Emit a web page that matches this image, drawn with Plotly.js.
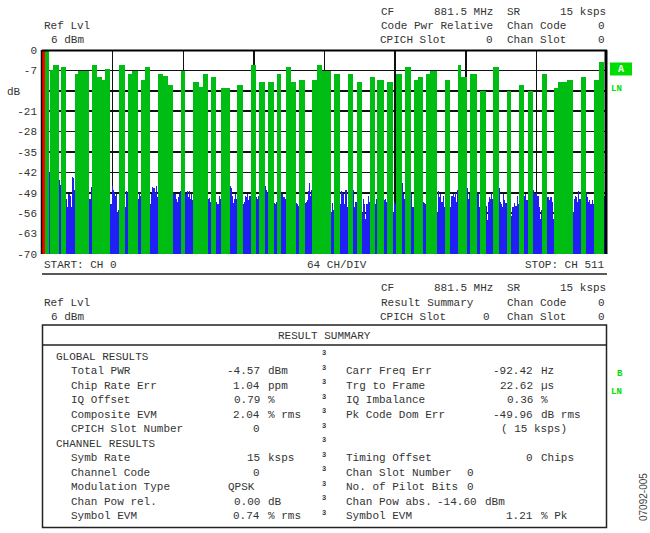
<!DOCTYPE html>
<html><head><meta charset="utf-8">
<script src="https://cdn.plot.ly/plotly-3.0.1.min.js"></script>
<style>html,body{margin:0;padding:0;background:#fff}#chart{width:650px;height:533px}</style>
</head><body><div id="chart"></div>
<script>
// ---- Code domain power data (channel = code number, level in dB relative) ----
const selStart = [0], selEnd = [3], selLevel = [0];
const greenStart = [3,7,10,17,30,33,37,45,50,54,57,70,78,82,90,93,105,110,114,126,137,142,146,153,162,177,189,197,205,213,221,226,233,245,249,254,265,277,285,297,304,313,321,329,337,341,348,352,365,377,380,388,397,409,421,432,440,453,464,468,476,488,500,505];
const greenEnd   = [6,10,15,22,33,37,43,50,54,57,62,75,82,87,93,98,110,114,119,130,142,146,150,158,170,182,194,202,210,217,226,230,238,249,254,262,270,282,290,302,310,318,326,334,341,345,352,358,370,380,385,394,402,414,425,437,445,458,468,476,481,493,505,509];
const greenLevel = [0,-7,-5.2,-5.9,-8.1,-7.1,-7.1,-5.2,-9.2,-10.2,-6.4,-5.2,-8.1,-7.1,-10.2,-5.9,-8.1,-9.0,-12.1,-7.1,-11,-12.8,-8.1,-9.2,-13,-12.1,-5.2,-11,-11,-8.1,-5.9,-11,-10.2,-10.2,-5.2,-7.1,-8.1,-8.1,-11,-9.2,-10.2,-11,-8.1,-5.9,-10.2,-9.2,-8.1,-7.1,-10.2,-5.2,-9.2,-8.1,-14.2,-5.9,-14.2,-12.1,-14.2,-8.1,-13,-11,-10.2,-9.2,-10.2,-4.1];
const blueStart = [6,15,22,43,62,75,87,98,119,130,150,158,170,182,194,202,210,217,230,238,262,270,282,290,302,310,318,326,334,345,358,370,385,394,402,414,425,437,445,458,481,493,509];
const blueLevels = [
 [-42],
 [-44.7,-46.4],
 [-51,-54,-49.5,-50,-54,-43.5,-44,-48],
 [-51,-47],
 [-53,-46.6,-48,-49,-50,-49.5,-55.6,-55],
 [-54,-48.3,-49],
 [-51,-49,-50],
 [-53,-49.5,-47,-47.5,-49,-46.5,-50.5],
 [-49,-49.5,-51,-52,-50.5,-49.5,-48.5],
 [-49.5,-48.5,-50.5,-48.5,-51,-49.5,-51.5],
 [-51,-50.8,-52],
 [-52,-53,-50,-51],
 [-46.5,-47.5,-50,-52.5,-51,-49.5,-51],
 [-53,-52,-50,-50.5,-49.5,-51.5,-50],
 [-50.5,-51,-50],
 [-46.5,-48,-49],
 [-52.5,-53,-52],
 [-49.5,-50.5,-50.5,-51],
 [-52.5,-53,-53.5],
 [-52.5,-52,-51.5,-48.5,-45.5,-50,-48],
 [-55.5,-52.5,-55],
 [-53,-48.5,-49,-49.5,-53,-48,-54],
 [-48,-54,-52],
 [-56,-51,-53,-58,-53,-50,-52],
 [-52.7,-51],
 [-51.5,-51,-52],
 [-55.6,-52,-53],
 [-45.5,-49.5,-51],
 [-49.5,-54,-54],
 [-52,-52.5,-53],
 [-55.6,-48.5,-50.5,-49.5,-52,-50,-54],
 [-54,-50,-49.5,-50.5,-49,-52,-48],
 [-47.5,-51,-49.5],
 [-49.5,-49,-54],
 [-53.5,-58.5,-52,-50.5,-51,-49,-51],
 [-47.5,-52,-53,-54,-49.5,-51.5,-52.5],
 [-57,-54,-54,-52.5,-53.5,-50,-53],
 [-50,-49.5,-51.5],
 [-48,-49,-49.5,-49,-50,-54,-58,-55],
 [-50.5,-51.5,-50.5,-50.5,-52,-58],
 [-55.6,-51,-50,-50.5,-52,-48.5,-51],
 [-49,-50.5,-52,-51.5,-53,-51.5,-53],
 [-50,-50.5,-51]
];
const yTickVals = [0,-7,-14,-21,-28,-35,-42,-49,-56,-63,-70];
const yTickText = ['0','-7','','-21','-28','-35','-42','-49','-56','-63','-70'];

// ---- Result summary table ----
const leftLabels  = ["GLOBAL RESULTS","Total PWR","Chip Rate Err","IQ Offset","Composite EVM","CPICH Slot Number","CHANNEL RESULTS","Symb Rate","Channel Code","Modulation Type","Chan Pow rel.","Symbol EVM"];
const leftValues  = ["","-4.57","1.04","0.79","2.04","0","","15","0","QPSK","0.00","0.74"];
const leftUnits   = ["","dBm","ppm","%","% rms","","","ksps","","","dB","% rms"];
const rightLabels = ["","Carr Freq Err","Trg to Frame","IQ Imbalance","Pk Code Dom Err","","","Timing Offset","Chan Slot Number","No. of Pilot Bits","Chan Pow abs.","Symbol EVM"];
const rightValues = ["","-92.42","22.62","0.36","-49.96","( 15 ksps)","","0","0","0","-14.60","1.21"];
const rightUnits  = ["","Hz","\u00b5s","%","dB rms","","","Chips","","","dBm","% Pk"];

// ---- build traces ----
const LO = -70;
function barTrace(xs, ws, lv, color){
  return {type:'bar', x:xs, width:ws, y:lv.map(v=>v-LO), base:lv.map(()=>LO),
    marker:{color:color, line:{width:0}}, hoverinfo:'skip', showlegend:false};
}
const gx=[],gw=[];
greenStart.forEach((s,i)=>{gx.push((s+greenEnd[i])/2); gw.push(greenEnd[i]-s);});
const bx=[],bw=[],bl=[];
blueStart.forEach((s,i)=>{blueLevels[i].forEach((v,j)=>{bx.push(s+j+0.5); bw.push(1); bl.push(v);});});
const rx=[],rw=[];
selStart.forEach((s,i)=>{rx.push((s+selEnd[i])/2); rw.push(selEnd[i]-s);});
const traces = [
  barTrace(bx,bw,bl,'#2020f6'),
  barTrace(gx,gw,greenLevel,'#00bd14'),
  barTrace(rx,rw,selLevel,'#ff0000')
];

// ---- pixel helpers ----
const PL=42, PR=607, PT=50, PB=254;
const X = px => (px-PL)/(PR-PL);
const Y = py => (PB-py)/(PB-PT);
const MONO = 'Liberation Mono, Courier New, monospace';
function ann(text, px, py, anchor, size, color, extra){
  return Object.assign({xref:'paper', yref:'paper', x:X(px), y:Y(py), xanchor:anchor, yanchor:'middle',
    text:text, showarrow:false, borderpad:0,
    font:{family:MONO, size:size||11, color:color||'#333'}}, extra||{});
}
const A = [];
function header(y0, line2left, cpichX){
  A.push(ann('CF', 380, y0, 'left'));
  A.push(ann('881.5 MHz', 494, y0, 'right'));
  A.push(ann('SR', 506, y0, 'left'));
  A.push(ann('15 ksps', 607, y0, 'right'));
  A.push(ann('Ref Lvl', 43, y0+14.5, 'left'));
  A.push(ann(line2left, 380, y0+14.5, 'left'));
  A.push(ann('Chan Code', 506, y0+14.5, 'left'));
  A.push(ann('0', 606, y0+14.5, 'right'));
  A.push(ann('6 dBm', 50, y0+29, 'left'));
  A.push(ann('CPICH Slot', 379, y0+29, 'left'));
  A.push(ann('0', cpichX, y0+29, 'right'));
  A.push(ann('Chan Slot', 506, y0+29, 'left'));
  A.push(ann('0', 606, y0+29, 'right'));
}
header(11.5, 'Code Pwr Relative', 494);
header(288, 'Result Summary', 491);
A.push(ann('dB', 6, 91.5, 'left'));
A.push(ann('START: CH 0', 43, 265, 'left'));
A.push(ann('64 CH/DIV', 306, 265, 'left'));
A.push(ann('STOP: CH 511', 606, 265, 'right'));
A.push(ann('RESULT SUMMARY', 324, 335.5, 'center'));
A.push(ann('<b>A</b>', 621, 69, 'center', 10, '#ffffff'));
A.push(ann('<b>LN</b>', 610, 88.5, 'left', 9, '#00e000'));
A.push(ann('<b>B</b>', 620, 374, 'center', 9, '#00e000'));
A.push(ann('<b>LN</b>', 610, 391.5, 'left', 9, '#00e000'));
A.push(ann('07092-005', 643, 497, 'center', 10, '#444', {textangle:-90, font:{family:'Liberation Sans, Arial', size:10, color:'#444'}}));
const rightValAnchor = [534,534,534,534,534,null,534,534,475,475,478,534];
leftLabels.forEach((lab,i)=>{
  const y = 356.7 + 14.5*i;
  const isHead = (i===0 || i===6);
  if(lab) A.push(ann(lab, isHead?55:70, y, 'left'));
  if(leftValues[i]){
    if(leftValues[i]==='QPSK') A.push(ann('QPSK', 227, y, 'left'));
    else A.push(ann(leftValues[i], 261, y, 'right'));
  }
  if(leftUnits[i]) A.push(ann(leftUnits[i], 267, y, 'left'));
  A.push(ann('<b>3</b>', 321, y-3.5, 'left', 7, '#333'));
  if(rightLabels[i]) A.push(ann(rightLabels[i], 345, y, 'left'));
  if(rightValues[i]){
    if(rightValues[i].startsWith('(')) A.push(ann(rightValues[i], 500, y, 'left'));
    else A.push(ann(rightValues[i], rightValAnchor[i], y, 'right'));
  }
  if(rightUnits[i]) A.push(ann(rightUnits[i], rightValAnchor[i]+6, y, 'left'));
});

const S = [];
function line(x0,y0,x1,y1,w,c){S.push({type:'line',xref:'paper',yref:'paper',x0:X(x0),y0:Y(y0),x1:X(x1),y1:Y(y1),line:{width:w,color:c||'#000'}});}
line(42,50.5,607,50.5,2);
line(41.5,50,41.5,254,1.5);
line(606,50,606,254,3);
line(42,274,607,274,1.5,'#222');
S.push({type:'rect',xref:'paper',yref:'paper',x0:X(42.5),x1:X(606.5),y0:Y(325),y1:Y(527.5),line:{width:1.5,color:'#222'}});
line(42.5,345,606.5,345,1.5,'#222');
S.push({type:'rect',xref:'paper',yref:'paper',x0:X(610),x1:X(632),y0:Y(62.5),y1:Y(75.5),fillcolor:'#00dd00',line:{width:0},layer:'below'});

const layout = {
  width:650, height:533,
  margin:{l:PL, r:650-PR, t:PT, b:533-PB, pad:0},
  paper_bgcolor:'#fff', plot_bgcolor:'#fff',
  barmode:'overlay', bargap:0, showlegend:false, hovermode:false,
  xaxis:{range:[0,512], tick0:0, dtick:64, showticklabels:false, ticks:'', showgrid:true,
         gridcolor:'#111', gridwidth:1.5, zeroline:false, showline:false, fixedrange:true},
  yaxis:{range:[-70,0], tickmode:'array', tickvals:yTickVals, ticktext:yTickText, showgrid:true,
         gridcolor:'#111', gridwidth:1.5, zeroline:false, showline:false, ticks:'', ticklabelstandoff:4,
         tickfont:{family:MONO, size:11, color:'#333'}, fixedrange:true},
  annotations:A, shapes:S
};
Plotly.newPlot('chart', traces, layout, {staticPlot:true, displayModeBar:false});
</script></body></html>
